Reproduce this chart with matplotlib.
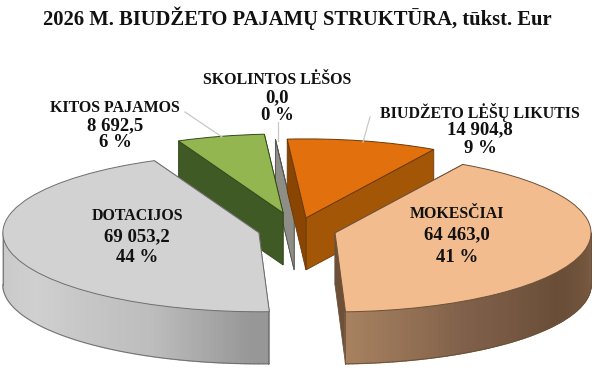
import numpy as np
import matplotlib
matplotlib.use("Agg")
import matplotlib.pyplot as plt
from matplotlib.collections import PolyCollection
from matplotlib.lines import Line2D
from matplotlib.colors import to_rgb

categories = ["BIUDŽETO LĖŠŲ LIKUTIS", "MOKESČIAI", "DOTACIJOS", "KITOS PAJAMOS", "SKOLINTOS LĖŠOS"]
values = [14904.8, 64463.0, 69053.2, 8692.5, 0.0]
value_labels = ["14 904,8", "64 463,0", "69 053,2", "8 692,5", "0,0"]
pct_labels = ["9 %", "41 %", "44 %", "6 %", "0 %"]
title = "2026 M. BIUDŽETO PAJAMŲ STRUKTŪRA, tūkst. Eur"

W, H = 599, 384
CX, CY, RX, RY, DEPTH = 297, 230, 256, 79, 52
explode = [0.157, 0.153, 0.153, 0.222, 0.152]
top_colors = ["#E2700C", "#F3BC8E", "#D2D2D2", "#93B651", "#8E8E86"]
edge_colors = ["#6b3a08", "#6b5138", "#6e6e6e", "#33491b", "#55554f"]
# wall shades for the two radial cuts (theta1 side, theta2 side)
radial = [("#A45607", "#8A4503"), ("#6E5039", "#6E5039"), ("#9a9a9a", "#9a9a9a"),
          ("#3F5A24", "#3F5A24"), ("#8E8E86", "#8E8E86")]
# (theta, colour) stops for the curved wall, theta in degrees below the horizontal
arc_stops = [
    [(180, "#8a4503"), (360, "#8a4503")],
    [(272, "#A88260"), (300, "#80604a"), (330, "#694D37"), (360, "#7C5C43")],
    [(180, "#C6C6C6"), (210, "#D0D0D0"), (245, "#BDBDBD"), (268, "#979797")],
    [(180, "#3F5A24"), (360, "#3F5A24")],
    [(180, "#8E8E86"), (360, "#8E8E86")],
]
draw_order = [4, 3, 0, 2, 1]

fig = plt.figure(figsize=(W / 100, H / 100), dpi=100, facecolor="white")
ax = fig.add_axes([0, 0, 1, 1])
wedges, _ = ax.pie(values, startangle=94.2, counterclock=False, explode=explode,
                   colors=top_colors, radius=1.0)
ax.set_aspect("auto")
ax.set_xlim(-CX / RX, (W - CX) / RX)
ax.set_ylim((CY - H) / RY, CY / RY)
ax.axis("off")
d = DEPTH / RY


def stop_color(stops, t):
    th = [s[0] for s in stops]
    cs = np.array([to_rgb(s[1]) for s in stops])
    return tuple(np.interp(t, th, cs[:, i]) for i in range(3))


z = 1
for i in draw_order:
    w = wedges[i]
    cx, cy = w.center
    t1, t2 = w.theta1, w.theta2
    for t, col in zip((t1, t2), radial[i]):
        p = (cx + np.cos(np.radians(t)), cy + np.sin(np.radians(t)))
        poly = [(cx, cy), p, (p[0], p[1] - d), (cx, cy - d)]
        ax.fill(*zip(*poly), fc=col, ec=edge_colors[i], lw=0.6, zorder=z)
    ts = np.arange(np.ceil(t1), t2 + 1.0)
    ts = np.clip(ts, t1, t2)
    ts = np.unique(np.r_[t1, ts, t2])
    mod = np.mod(ts, 360)
    quads, cols = [], []
    for a, b, ma in zip(ts[:-1], ts[1:], mod[:-1]):
        if np.sin(np.radians((a + b) / 2)) >= 0:
            continue
        xa, ya = cx + np.cos(np.radians(a)), cy + np.sin(np.radians(a))
        xb, yb = cx + np.cos(np.radians(b)), cy + np.sin(np.radians(b))
        quads.append([(xa, ya), (xb, yb), (xb, yb - d), (xa, ya - d)])
        cols.append(stop_color(arc_stops[i], ma))
    if quads:
        pc = PolyCollection(quads, facecolors=cols, edgecolors=cols, linewidths=1.0, zorder=z)
        ax.add_collection(pc)
        arc = np.array([q[3] for q in quads] + [quads[-1][2]])
        ax.plot(arc[:, 0], arc[:, 1], color=edge_colors[i], lw=0.7, zorder=z)
        for q in (quads[0], quads[-1]):
            ax.plot([q[0][0], q[3][0]], [q[0][1], q[3][1]], color=edge_colors[i], lw=0.6, zorder=z)
    w.set_zorder(z + 0.5)
    w.set_edgecolor(edge_colors[i])
    w.set_linewidth(0.7)
    z += 1


def fx(x):
    return x / W


def fy(y):
    return 1 - y / H


fig.text(fx(297), fy(18), title, ha="center", va="center", family="Liberation Serif",
         fontweight="bold", fontsize=14.9, color="#111111")

label_pos = [(480, (112, 130, 149)), (457, (214, 235, 257)), (137, (216, 237, 258)),
             (115, (108, 126, 143)), (277, (80, 98, 116))]
for i, (x, ys) in enumerate(label_pos):
    for y, s, fs in zip(ys, (categories[i], value_labels[i], pct_labels[i]), (11.4, 13.5, 13.5)):
        fig.text(fx(x), fy(y), s, ha="center", va="center", family="Liberation Serif",
                 fontweight="bold", fontsize=fs, color="#111111", zorder=20)

leaders = [((185, 222), (112, 137)), ((278, 278), (122, 141)), ((370, 363), (117, 142))]
for xs, ys in leaders:
    fig.add_artist(Line2D([fx(v) for v in xs], [fy(v) for v in ys], color="#c8c8c8", lw=0.9,
                          transform=fig.transFigure))

fig.savefig("out.png", dpi=100, facecolor="white")
